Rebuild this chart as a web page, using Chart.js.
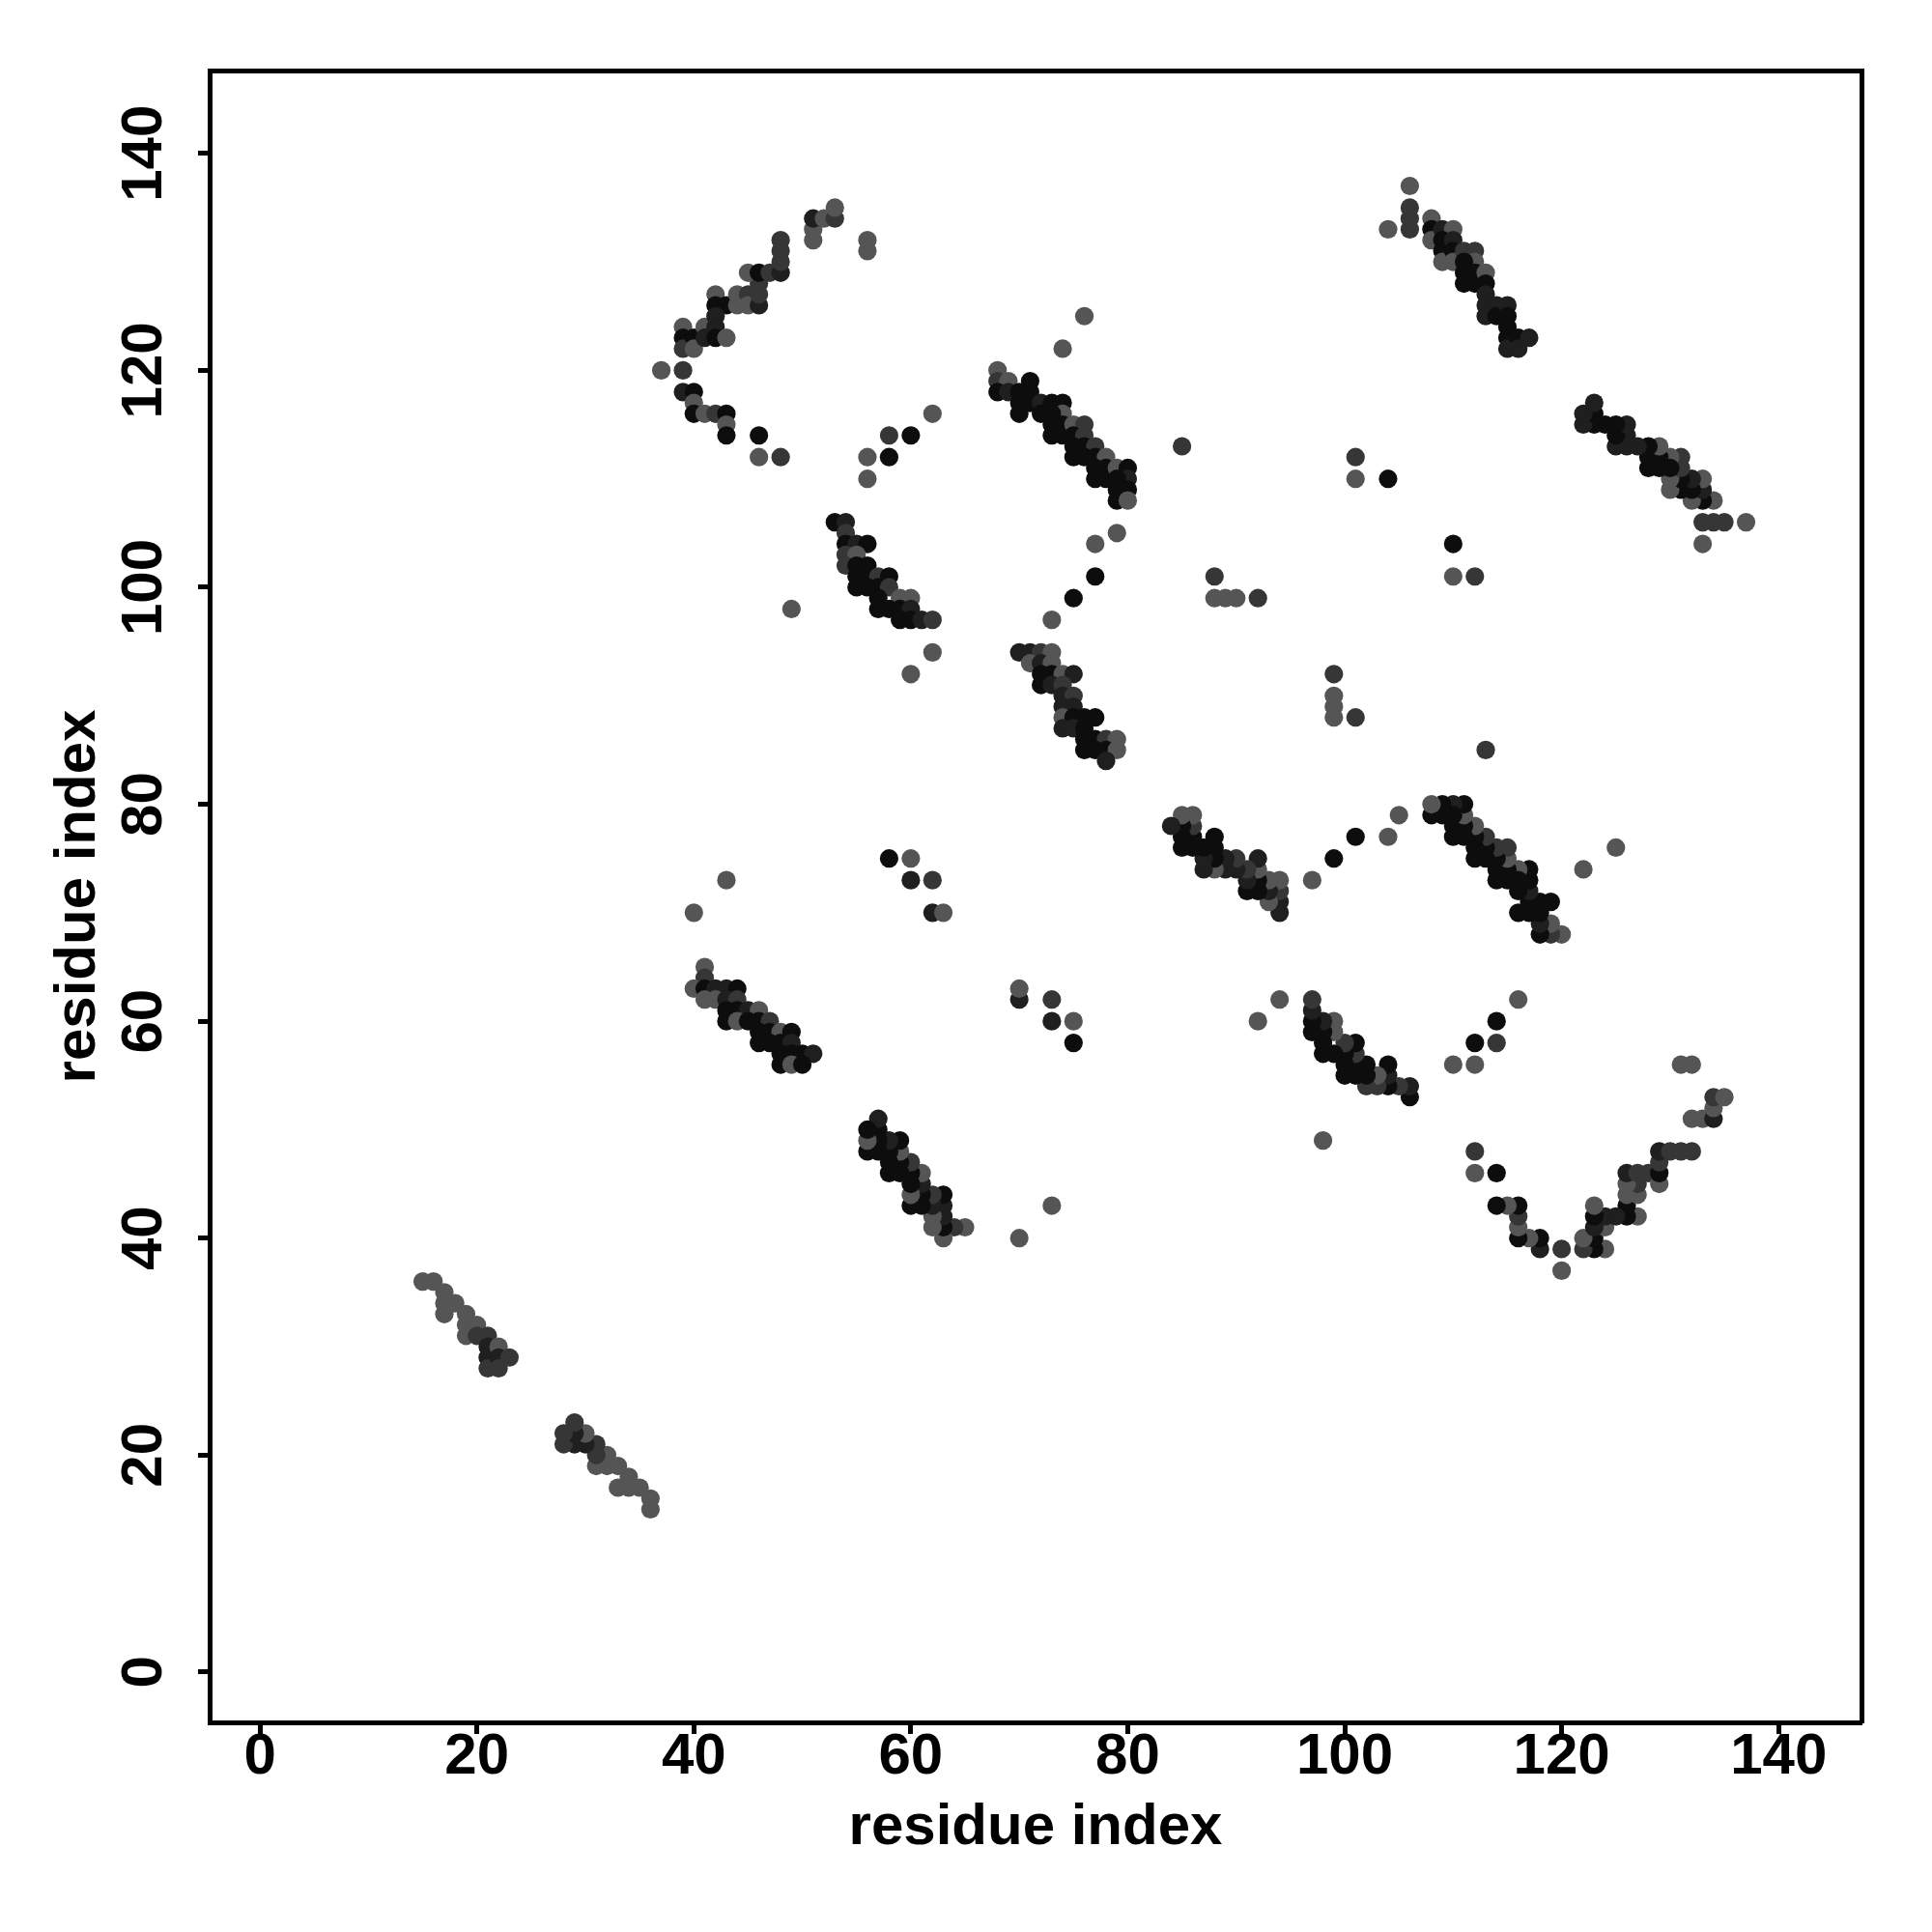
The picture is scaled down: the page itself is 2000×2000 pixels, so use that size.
<!DOCTYPE html>
<html>
<head>
<meta charset="utf-8">
<script src="https://cdn.jsdelivr.net/npm/chart.js@4.4.1/dist/chart.umd.min.js"></script>
<style>
html,body{margin:0;padding:0;background:#fff;}
#c{display:block;}
</style>
</head>
<body>
<canvas id="c" width="2000" height="2000"></canvas>
<script>
// Contact map (symmetric). Each entry: [residue i, residue j (> i), grey class]
// Grey class: 0 = black ... 3 = mid grey
const strandA = [[15,36,3],[16,36,3],[17,35,3],[17,34,3],[17,33,3],[18,34,3],[19,33,3],[19,32,3],[19,31,3],[20,32,3],[20,31,2],[21,31,2],[21,30,1],[21,29,1],[21,28,2],[22,30,3],[22,29,1],[22,28,2],[23,29,2]];
const arcC = [[37,120,3],[39,120,2],[39,118,1],[40,118,0],[40,117,3],[40,116,0],[41,116,3],[42,116,2],[43,116,0],[43,115,3],[43,114,0],[46,114,0],[46,112,3],[48,112,2],
  [39,124,3],[39,123,0],[39,122,2],[40,123,0],[40,122,3],[41,124,3],[41,123,1],[42,127,3],[42,126,0],[43,126,0],[42,125,1],[42,124,1],[42,123,0],[43,123,3],
  [44,127,3],[44,126,3],[45,127,2],[45,126,3],[46,126,1],[46,127,2],[46,128,2],[45,129,3],[46,129,0],[47,129,2],[48,129,1],[48,130,2],[48,131,2],[48,132,2],
  [51,132,3],[51,133,3],[51,134,1],[52,134,3],[53,134,2],[53,135,3],[56,132,3],[56,131,3]];
const patchE = [[56,112,3],[56,110,3],[58,114,2],[58,112,0],[60,114,0],[62,116,3]];
const strandD = [[53,106,0],[54,106,1],[54,105,2],[54,104,0],[55,104,1],[56,104,0],[54,103,2],[55,103,3],[54,102,2],[55,102,0],[56,102,0],[55,101,0],[56,101,0],[57,101,2],[58,101,0],
  [55,100,0],[56,100,0],[57,100,0],[58,100,2],[57,99,0],[59,99,3],[60,99,3],[57,98,0],[58,98,0],[59,98,0],[60,98,1],[59,97,0],[60,97,0],[61,97,1],[62,97,2],
  [49,98,3],[62,94,3],[60,92,3]];
const strandF = [[68,120,3],[68,119,2],[69,119,3],[68,118,0],[69,118,1],[71,119,0],[70,118,0],[71,118,0],[70,117,0],[70,116,0],[71,117,0],[72,117,1],[72,116,0],[73,117,0],[74,117,0],
  [74,116,3],[73,116,0],[73,115,0],[73,114,0],[74,115,0],[74,114,0],[75,115,3],[76,115,2],[75,114,0],[76,114,2],[75,113,0],[75,112,0],[76,113,0],[77,113,2],[76,112,0],
  [77,112,0],[78,112,3],[77,111,0],[78,111,0],[77,110,0],[78,110,0],[79,111,3],[80,111,0],[80,110,1],[79,110,0],[80,109,0],[79,109,0],[79,108,0],[80,108,3],
  [79,105,3],[77,104,3],[76,125,3],[74,122,3]];
const strandG = [[70,94,1],[71,94,1],[72,94,2],[73,94,3],[71,93,3],[72,93,1],[73,93,3],[72,92,0],[73,92,0],[74,92,3],[75,92,1],[72,91,0],[73,91,1],[74,91,2],[74,90,1],[75,90,2],
  [74,89,1],[75,89,1],[74,88,3],[75,88,0],[76,88,0],[77,88,0],[74,87,1],[75,87,1],[76,87,0],[76,86,0],[77,86,0],[78,86,2],[79,86,3],[76,85,0],[77,85,0],[78,85,0],[79,85,3],[78,84,1],
  [73,97,3],[75,99,0],[77,101,0],[88,101,2],[88,99,3],[89,99,3],[90,99,3],[92,99,2],[85,113,2]];
const strandJ = [[106,137,3],[106,135,2],[106,134,2],[106,133,2],[104,133,3],[108,134,3],[108,133,0],[108,132,3],[109,133,1],[110,133,3],[109,132,0],[109,131,0],[109,130,3],
  [110,132,1],[110,131,0],[110,130,3],[111,131,2],[112,131,2],[112,130,3],[111,130,0],[111,129,0],[111,128,0],[112,129,0],[112,128,0],[113,129,3],[113,128,0],[113,127,1],
  [113,126,1],[113,125,1],[114,126,1],[114,125,0],[115,126,1],[115,125,0],[115,124,0],[115,123,0],[115,122,1],[116,123,0],[116,122,1],[117,123,1],
  [101,112,2],[101,110,3],[104,110,0]];
const strandO = [[41,65,3],[41,64,2],[40,63,3],[41,63,0],[42,63,1],[43,63,1],[44,63,0],[41,62,3],[42,62,3],[43,62,1],[44,62,2],[43,61,0],[44,61,0],[45,61,1],[46,61,3],
  [43,60,0],[44,60,3],[45,60,0],[46,60,0],[47,60,2],[46,59,0],[47,59,0],[48,59,3],[49,59,0],[46,58,0],[47,58,0],[48,58,0],[49,58,1],[48,57,0],[49,57,0],[50,57,0],[51,57,1],
  [48,56,0],[49,56,3],[50,56,0],
  [58,75,0],[60,75,3],[60,73,1],[62,73,2],[62,70,1],[63,70,3],[40,70,3],[43,73,3]];
const greyPalette = ['#0d0d0d', '#1f1f1f', '#363636', '#555555'];
const tickValues = [0, 20, 40, 60, 80, 100, 120, 140];
const axisTitle = 'residue index';
const axisRange = [1, 142];

const contacts = [].concat(strandA, arcC, patchE, strandD, strandF, strandG, strandJ, strandO);
const points = [], colors = [];
contacts.forEach(([i, j, g]) => {
  points.push({x: i, y: j}); colors.push(greyPalette[g]);
  points.push({x: j, y: i}); colors.push(greyPalette[g]);
});

const pad = (axisRange[1] - axisRange[0]) * 0.04;
const lo = axisRange[0] - pad, hi = axisRange[1] + pad;
const font = {family: "'Liberation Sans', Arial, sans-serif", weight: 'bold', size: 60};
const setTicks = s => { s.ticks = tickValues.map(v => ({value: v})); };
const gridOpts = {drawOnChartArea: false, drawTicks: true, tickLength: 12, tickWidth: 5, tickColor: '#000', color: '#000'};
const borderOpts = {display: true, color: '#000', width: 5};

new Chart(document.getElementById('c'), {
  type: 'scatter',
  data: {datasets: [{data: points, backgroundColor: colors, pointRadius: 9.6, pointHoverRadius: 9.6, pointBorderWidth: 0, borderWidth: 0}]},
  options: {
    responsive: false, animation: false, events: [],
    layout: {padding: 0},
    plugins: {legend: {display: false}, tooltip: {enabled: false}},
    scales: {
      x: {type: 'linear', position: 'bottom', min: lo, max: hi, afterBuildTicks: setTicks,
          ticks: {font, color: '#000', padding: -12, maxRotation: 0, autoSkip: false},
          grid: gridOpts, border: borderOpts,
          title: {display: true, text: axisTitle, font, color: '#000', padding: {top: 0, bottom: 72}},
          afterFit: s => { s.height = 217; }},
      y: {type: 'linear', position: 'left', min: lo, max: hi, afterBuildTicks: setTicks,
          ticks: {font, color: '#000', padding: 4, minRotation: 90, maxRotation: 90, crossAlign: 'center', autoSkip: false},
          grid: gridOpts, border: borderOpts,
          title: {display: true, text: axisTitle, font, color: '#000', padding: {top: 45, bottom: 0}},
          afterFit: s => { s.width = 217; }},
      x2: {type: 'linear', axis: 'x', position: 'top', min: lo, max: hi, ticks: {display: false},
           grid: {display: false}, border: borderOpts, afterFit: s => { s.height = 73; }},
      y2: {type: 'linear', axis: 'y', position: 'right', min: lo, max: hi, ticks: {display: false},
           grid: {display: false}, border: borderOpts, afterFit: s => { s.width = 73; }}
    }
  }
});
</script>
</body>
</html>
